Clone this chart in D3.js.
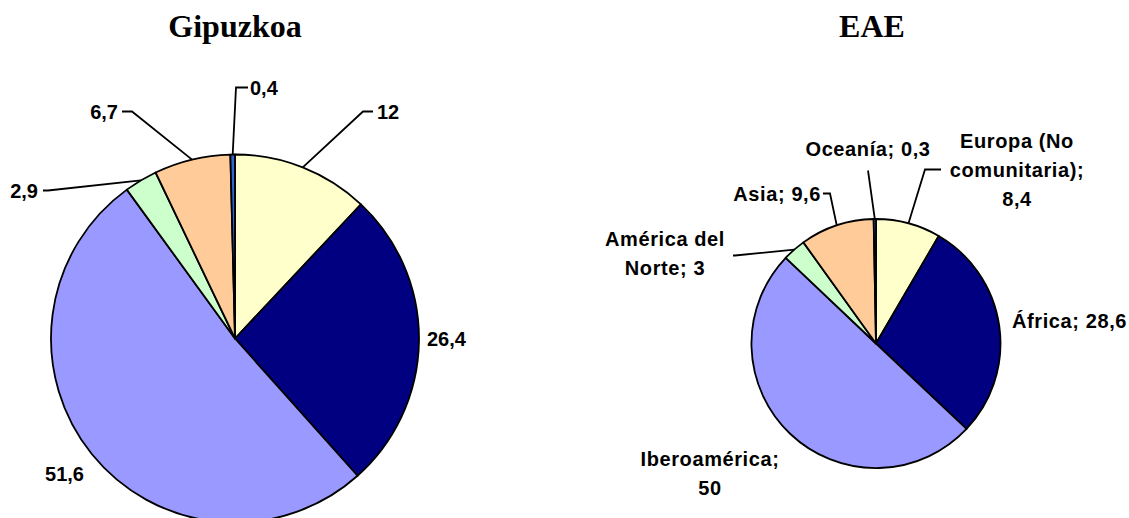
<!DOCTYPE html>
<html>
<head>
<meta charset="utf-8">
<script src="https://cdn.jsdelivr.net/npm/d3@7"></script>
<style>
  body { margin: 0; background: #fff; }
  svg { display: block; }
  .title { font-family: "Liberation Serif", "Times New Roman", serif; font-weight: bold; font-size: 32px; }
  .lbl { font-family: "Liberation Sans", Arial, sans-serif; font-weight: bold; font-size: 20px; fill: #000; }
</style>
</head>
<body>
<script>
// data
var categories = ["Europa (No comunitaria)", "África", "Iberoamérica", "América del Norte", "Asia", "Oceanía"];
var gipuzkoaValues = [12, 26.4, 51.6, 2.9, 6.7, 0.4];
var eaeValues = [8.4, 28.6, 50, 3, 9.6, 0.3];
var sliceColors = ["#FFFFCC", "#000080", "#9999FF", "#CCFFCC", "#FFCC99", "#3366CC"];

// how the EAE labels wrap
var eaeLabelLines = [
  ["Europa (No", "comunitaria);", "{v}"],
  ["África; {v}"],
  ["Iberoamérica;", "{v}"],
  ["América del", "Norte; {v}"],
  ["Asia; {v}"],
  ["Oceanía; {v}"]
];

var fmt = function (v) { return String(v).replace(".", ","); };

var W = 1129, H = 518;
var svg = d3.select("body").append("svg").attr("width", W).attr("height", H);

// label layout: position relative to the pie centre, leader elbow and end
var gipuzkoaLayout = [
  { x: 142, y: -227, anchor: "start", elbow: [128, -227], end: [138, -227] },
  { x: 192, y: 0, anchor: "start" },
  { x: -151, y: 135, anchor: "end" },
  { x: -197, y: -148, anchor: "end", elbow: [-187, -148], end: [-192, -148] },
  { x: -117, y: -227, anchor: "end", elbow: [-103, -227], end: [-113, -227] },
  { x: 15, y: -251, anchor: "start", elbow: [1, -251], end: [13, -251] }
];

var eaeLayout = [
  { x: 141, y: -174, anchor: "middle", elbow: [49, -174], end: [65, -174] },
  { x: 136, y: -23, anchor: "start" },
  { x: -166, y: 130, anchor: "middle" },
  { x: -211, y: -90, anchor: "middle", elbow: [-141, -88], end: [-143, -88] },
  { x: -55, y: -150, anchor: "end", elbow: [-46, -150], end: [-53, -150] },
  { x: -8, y: -195, anchor: "middle", elbow: [-8, -173], end: [-8, -173] }
];

function drawPie(cfg) {
  var g = svg.append("g")
    .attr("transform", "translate(" + cfg.cx + "," + cfg.cy + ")");

  var pie = d3.pie().sort(null).value(function (d) { return d; });
  var arcs = pie(cfg.values);
  var arc = d3.arc().innerRadius(0).outerRadius(cfg.r);

  g.selectAll("path.slice")
    .data(arcs)
    .join("path")
    .attr("class", "slice")
    .attr("d", arc)
    .attr("fill", function (d, i) { return sliceColors[i]; })
    .attr("stroke", "#000")
    .attr("stroke-width", 1.8)
    .attr("stroke-linejoin", "round");

  svg.append("text")
    .attr("class", "title")
    .attr("x", cfg.cx + cfg.titleShift)
    .attr("y", 37)
    .attr("text-anchor", "middle")
    .text(cfg.title);

  // leader lines
  arcs.forEach(function (d, i) {
    var lay = cfg.layout[i];
    if (!lay.elbow) return;
    var mid = (d.startAngle + d.endAngle) / 2;
    var p0 = [cfg.r * Math.sin(mid), -cfg.r * Math.cos(mid)];
    g.append("path")
      .attr("d", d3.line()([p0, lay.elbow, lay.end]))
      .attr("fill", "none")
      .attr("stroke", "#000")
      .attr("stroke-width", 1.8);
  });

  // labels
  arcs.forEach(function (d, i) {
    var lay = cfg.layout[i];
    var lines = cfg.lines(i);
    var lineH = 29;
    var t = g.append("text")
      .attr("class", "lbl")
      .attr("text-anchor", lay.anchor)
      .style("letter-spacing", cfg.spacing + "px");
    lines.forEach(function (s, k) {
      t.append("tspan")
        .attr("x", lay.x)
        .attr("y", lay.y + (k - (lines.length - 1) / 2) * lineH)
        .attr("dy", "0.35em")
        .text(s);
    });
  });
}

drawPie({
  title: "Gipuzkoa",
  titleShift: 0,
  cx: 235, cy: 338.5, r: 184,
  values: gipuzkoaValues,
  layout: gipuzkoaLayout,
  spacing: 0,
  lines: function (i) { return [fmt(gipuzkoaValues[i])]; }
});

drawPie({
  title: "EAE",
  titleShift: -4,
  cx: 876, cy: 343.5, r: 124.5,
  values: eaeValues,
  layout: eaeLayout,
  spacing: 0.6,
  lines: function (i) {
    return eaeLabelLines[i].map(function (s) { return s.replace("{v}", fmt(eaeValues[i])); });
  }
});
</script>
</body>
</html>
